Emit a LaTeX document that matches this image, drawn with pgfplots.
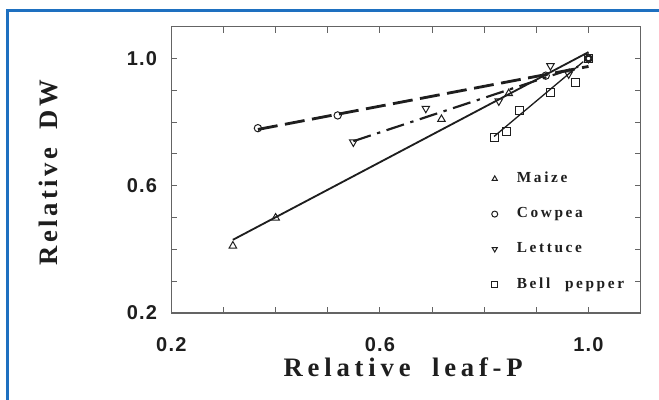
\documentclass[border=0pt]{standalone}
\usepackage{pgfplots}
\pgfplotsset{compat=1.18}
\usepackage{fontspec}
\setmainfont{Liberation Serif}
\newfontfamily\tickfont[LetterSpace=6]{Liberation Sans}
\newfontfamily\labfont[LetterSpace=18]{Liberation Serif}
\newfontfamily\ylabfont[LetterSpace=13]{Liberation Serif}
\newfontfamily\legfont[LetterSpace=17]{Liberation Serif}
\definecolor{frameblue}{RGB}{30,112,192}
\definecolor{axgray}{RGB}{100,100,100}
\definecolor{ink}{RGB}{30,30,30}

\begin{document}
\begin{tikzpicture}
\path[use as bounding box] (0,0) rectangle (395.4pt,240pt);
\draw[frameblue, line width=1.8pt] (4.5pt,-20pt) -- (4.5pt,233.4pt) -- (420pt,233.4pt);
\begin{axis}[
    at={(102.8pt,52.2pt)}, anchor=south west,
    scale only axis,
    width=281.6pt, height=171.8pt,
    xmin=0.2, xmax=1.1, ymin=0.2, ymax=1.1,
    xtick={0.2,0.6,1.0}, ytick={0.2,0.6,1.0},
    minor xtick={0.3,0.4,0.5,0.7,0.8,0.9},
    minor ytick={0.3,0.4,0.5,0.7,0.8,0.9},
    tick align=inside,
    major tick length=3.6pt, minor tick length=3.6pt,
    axis line style={axgray, line width=0.9pt},
    every tick/.style={axgray, line width=0.6pt},
    every minor tick/.style={axgray, line width=0.6pt},
    tick label style={font=\tickfont\bfseries\fontsize{12}{14}\selectfont, ink},
    /pgf/number format/assume math mode=true,
    xticklabel style={/pgf/number format/.cd, fixed, fixed zerofill, precision=1, /tikz/.cd, yshift=-11pt},
    yticklabel style={/pgf/number format/.cd, fixed, fixed zerofill, precision=1, /tikz/.cd, xshift=-5pt},
    xlabel={Relative\hspace{6pt} leaf-P},
    ylabel={\ylabfont Relative\hspace{5pt} DW},
    label style={font=\labfont\bfseries\fontsize{16}{18}\selectfont, ink},
    xlabel style={at={(axis description cs:0.494,-0.19)}, anchor=center},
    ylabel style={at={(axis description cs:-0.262,0.49)}, anchor=center, rotate=0},
    legend style={at={(axis description cs:0.666,0.51)}, anchor=north west,
        draw=none, fill=none, row sep=11.4pt,
        font=\legfont\bfseries\fontsize{9.2}{10}\selectfont, text=ink,
        nodes={inner sep=1pt}},
    legend cell align=left,
    legend image code/.code={\draw[#1, mark size=1.8pt] plot coordinates {(0pt,0pt)}; \path (-3pt,0pt) (12pt,0pt);},
    clip=false,
]
% fitted lines
\addplot[ink, line width=1.1pt, forget plot] coordinates {(0.318,0.43) (1.0,1.02)};
\addplot[ink, line width=1.7pt, dash pattern=on 12pt off 4.5pt, forget plot] coordinates {(0.366,0.777) (1.0,0.975)};
\addplot[ink, line width=1.3pt, dash pattern=on 11pt off 4pt on 2pt off 4pt, forget plot] coordinates {(0.549,0.740) (0.98,0.974)};
\addplot[ink, line width=0.8pt, forget plot] coordinates {(0.819,0.755) (0.99,0.99)};
% data points
\addplot[only marks, mark=triangle, mark size=2.6pt, ink, line width=0.6pt] coordinates {
    (0.318,0.411) (0.40,0.499) (0.718,0.809) (0.847,0.890) (1.0,1.0)};
\addlegendentry{Maize}
\addplot[only marks, mark=o, mark size=2.2pt, ink, line width=0.6pt] coordinates {
    (0.366,0.781) (0.519,0.821) (0.918,0.946) (1.0,1.0)};
\addlegendentry{Cowpea}
\addplot[only marks, mark=triangle, mark options={rotate=180}, mark size=2.6pt, ink, line width=0.6pt] coordinates {
    (0.549,0.737) (0.688,0.843) (0.828,0.866) (0.927,0.977) (0.962,0.951) (1.0,1.0)};
\addlegendentry{Lettuce}
\addplot[only marks, mark=square, mark size=2.4pt, ink, line width=0.6pt] coordinates {
    (0.819,0.751) (0.842,0.772) (0.867,0.835) (0.927,0.893) (0.975,0.925) (1.0,1.0)};
\addlegendentry{Bell\hspace{5pt} pepper}
\end{axis}
\end{tikzpicture}
\end{document}
